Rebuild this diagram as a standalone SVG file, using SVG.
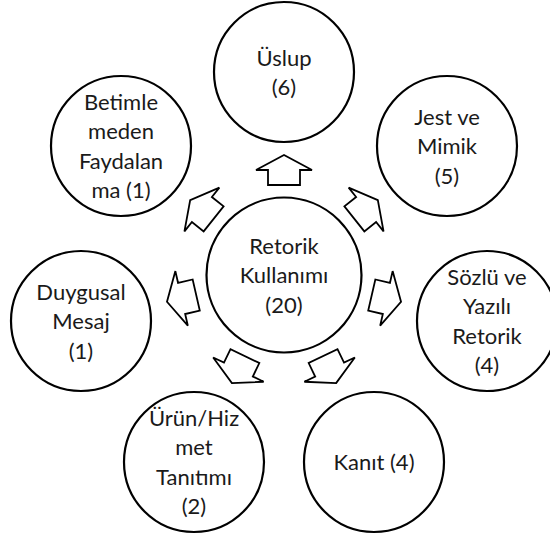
<svg xmlns="http://www.w3.org/2000/svg" width="550" height="537" viewBox="0 0 550 537">
  <style>
    .node { fill: #ffffff; stroke: #000000; stroke-width: 2.2; }
    .arrow { fill: #ffffff; stroke: #000000; stroke-width: 1.8; stroke-linejoin: miter; }
    .label { font-family: Lato, "Open Sans", "Liberation Sans", sans-serif; font-size: 22px; fill: #1a1a1a; text-anchor: middle; }
  </style>
  <defs>
    <!-- block arrow pointing along +x, centred on its origin -->
    <polygon id="blockArrow" class="arrow" points="15,0 0,-28 0,-16 -15,-16 -15,16 0,16 0,28"/>
  </defs>

  <rect width="550" height="537" fill="#ffffff"/>

  <!-- diverging arrows from the hub, one per spoke (360/7 apart) -->
  <g id="connectors">
    <use href="#blockArrow" transform="translate(284,170) rotate(-90)"/>
    <use href="#blockArrow" transform="translate(366.1,209.5) rotate(-38.57)"/>
    <use href="#blockArrow" transform="translate(386.4,298.4) rotate(12.86)"/>
    <use href="#blockArrow" transform="translate(329.6,369.6) rotate(64.29)"/>
    <use href="#blockArrow" transform="translate(238.4,369.6) rotate(115.71)"/>
    <use href="#blockArrow" transform="translate(181.6,298.4) rotate(167.14)"/>
    <use href="#blockArrow" transform="translate(201.9,209.5) rotate(218.57)"/>
  </g>

  <g id="hub">
    <circle class="node" cx="284" cy="275" r="77.5"/>
    <text class="label" x="284" y="254">Retorik</text>
    <text class="label" x="284" y="283.3">Kullanımı</text>
    <text class="label" x="284" y="312.6">(20)</text>
  </g>

  <g id="node-uslup">
    <circle class="node" cx="284" cy="72" r="70"/>
    <text class="label" x="284" y="66">Üslup</text>
    <text class="label" x="284" y="95.3">(6)</text>
  </g>

  <g id="node-jest">
    <circle class="node" cx="447" cy="146" r="70"/>
    <text class="label" x="447" y="125">Jest ve</text>
    <text class="label" x="447" y="154.3">Mimik</text>
    <text class="label" x="447" y="183.6">(5)</text>
  </g>

  <g id="node-sozlu">
    <circle class="node" cx="487" cy="321" r="70"/>
    <text class="label" x="487" y="285">Sözlü ve</text>
    <text class="label" x="487" y="314.3">Yazılı</text>
    <text class="label" x="487" y="343.6">Retorik</text>
    <text class="label" x="487" y="372.9">(4)</text>
  </g>

  <g id="node-kanit">
    <circle class="node" cx="374" cy="462" r="70"/>
    <text class="label" x="374" y="470.3">Kanıt (4)</text>
  </g>

  <g id="node-urun">
    <circle class="node" cx="194" cy="462" r="70"/>
    <text class="label" x="194" y="426">Ürün/Hiz</text>
    <text class="label" x="194" y="455.3">met</text>
    <text class="label" x="194" y="484.6">Tanıtımı</text>
    <text class="label" x="194" y="513.9">(2)</text>
  </g>

  <g id="node-duygusal">
    <circle class="node" cx="81" cy="321" r="70"/>
    <text class="label" x="81" y="300">Duygusal</text>
    <text class="label" x="81" y="329.3">Mesaj</text>
    <text class="label" x="81" y="358.6">(1)</text>
  </g>

  <g id="node-betimleme">
    <circle class="node" cx="121" cy="146" r="70"/>
    <text class="label" x="121" y="110">Betimle</text>
    <text class="label" x="121" y="139.3">meden</text>
    <text class="label" x="121" y="168.6">Faydalan</text>
    <text class="label" x="121" y="197.9">ma (1)</text>
  </g>
</svg>
